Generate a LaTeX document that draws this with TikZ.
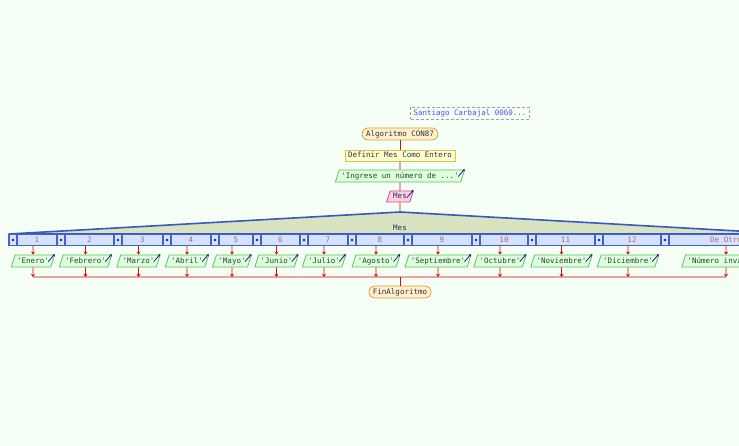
\documentclass[tikz,border=0pt]{standalone}
\usepackage{fontspec}
\setmonofont{DejaVu Sans Mono}
\usetikzlibrary{shapes.geometric,arrows.meta,calc}
\definecolor{bg}{HTML}{F5FFF5}
\definecolor{startdraw}{HTML}{D9A040}
\definecolor{startfill}{HTML}{FFF0C8}
\definecolor{defdraw}{HTML}{D8C840}
\definecolor{deffill}{HTML}{FFFFD0}
\definecolor{outdraw}{HTML}{60C060}
\definecolor{outfill}{HTML}{DDFFDD}
\definecolor{indraw}{HTML}{D04888}
\definecolor{infill}{HTML}{FFD0E4}
\definecolor{tridraw}{HTML}{3A56C0}
\definecolor{trifill}{HTML}{D8E4C0}
\definecolor{casedraw}{HTML}{4562C8}
\definecolor{casefill}{HTML}{D4E2FF}
\definecolor{casetxt}{HTML}{B86868}
\definecolor{txt}{HTML}{303050}
\definecolor{outtxt}{HTML}{304030}
\definecolor{flowred}{HTML}{D01010}
\definecolor{joinpink}{HTML}{E8A4A4}
\definecolor{iconblue}{HTML}{20208A}
\definecolor{commenttxt}{HTML}{5050F0}
\definecolor{commentdraw}{HTML}{A0A0A0}
\begin{document}
\begin{tikzpicture}[x=1pt,y=-1pt,
  font=\ttfamily\fontsize{7.5}{9}\selectfont,
  fixh/.style={text height=5.6pt, text depth=1.4pt},
  startend/.style={fixh, draw=startdraw, fill=startfill, rounded corners=6pt, minimum height=12pt, inner xsep=4pt, inner ysep=0pt, line width=0.8pt, text=txt},
  defbox/.style={fixh, draw=defdraw, fill=deffill, minimum height=11pt, inner xsep=3pt, inner ysep=0pt, line width=0.8pt, text=txt},
  outbox/.style={fixh, trapezium, trapezium stretches=true, trapezium left angle=72, trapezium right angle=108, draw=outdraw, fill=outfill, inner xsep=2pt, inner ysep=2.5pt, line width=0.8pt, text=outtxt},
  inbox/.style={fixh, trapezium, trapezium stretches=true, trapezium left angle=72, trapezium right angle=108, draw=indraw, fill=infill, inner xsep=3pt, inner ysep=2pt, line width=0.8pt, text=txt},
  commentbox/.style={fixh, draw=commentdraw, dash pattern=on 3pt off 2pt, minimum height=12pt, inner xsep=3pt, inner ysep=0pt, line width=0.8pt, text=commenttxt},
  casebox/.style={fixh, draw=casedraw, fill=casefill, line width=1.6pt, minimum height=11pt, inner sep=0pt, text=casetxt},
  tri/.style={draw=tridraw, fill=trifill, line width=1.6pt, line join=round},
  flow/.style={draw=flowred, line width=0.9pt},
  flowarrow/.style={flow, -{Stealth[length=3pt,width=4pt]}},
  joinline/.style={draw=joinpink, line width=1.8pt},
  icon/.style={draw=iconblue, line width=0.8pt, -{Stealth[length=2.5pt,width=2.8pt]}}
]
\useasboundingbox (0,0) rectangle (739,446);
\fill[bg] (0,0) rectangle (739,446);
\begin{scope}
\clip (0,0) rectangle (739,446);

% main sequence
\node[commentbox] (cm) at (470,113) {Santiago Carbajal 0060...};
\node[startend] (ini) at (400,134) {Algoritmo CON87};
\node[defbox] (def) at (400,155.5) {Definir Mes Como Entero};
\node[outbox] (ing) at (400,176) {'Ingrese un número de ...'};
\node[inbox] (lee) at (400,196.5) {Mes};
\coordinate (apex) at (400,212);
\coordinate (tl) at (9,234);
\coordinate (tr) at (791,234);

\draw[flow] (ini) -- (def);
\draw[flow] (def) -- (ing);
\draw[flow] (ing) -- (lee);
\draw[flow] (lee) -- (apex);

\draw[icon] ([xshift=-7pt,yshift=-7pt]ing.top right corner) -- ([xshift=-0.5pt,yshift=0.5pt]ing.top right corner);
\draw[icon] ([xshift=-7pt,yshift=-7pt]lee.top right corner) -- ([xshift=-0.5pt,yshift=0.5pt]lee.top right corner);

% decision triangle
\filldraw[tri] (apex) -- (tl) -- (tr) -- cycle;
\node[text=txt] (mes) at (400,228) {Mes};

% cases
\foreach \l/\r/\lab/\out [count=\i] in {
  9/57/1/'Enero',
  57/114/2/'Febrero',
  114/163/3/'Marzo',
  163/211/4/'Abril',
  211/253/5/'Mayo',
  253/300/6/'Junio',
  300/348/7/'Julio',
  348/404/8/'Agosto',
  404/472/9/'Septiembre',
  472/528/10/'Octubre',
  528/595/11/'Noviembre',
  595/661/12/'Diciembre',
  661/791/{}/'Número inválido'}{
  \pgfmathsetmacro\cx{(\l+\r)/2}
  \pgfmathsetmacro\bx{(\l+8+\r)/2}
  \pgfmathsetmacro\bw{\r-\l-8}
  \node[casebox, minimum width=8pt] (s\i) at (\l+4,240) {};
  \fill[iconblue] (s\i.center) circle (1.3pt);
  \node[casebox, minimum width=\bw pt] (c\i) at (\bx,240) {\lab};
  \coordinate (cb\i) at (\cx,246);
  \node[outbox] (o\i) at (\cx,261) {\out};
  \draw[icon] ([xshift=-7pt,yshift=-7pt]o\i.top right corner) -- ([xshift=-0.5pt,yshift=0.5pt]o\i.top right corner);
  \coordinate (j\i) at (\cx,277);
  \draw[flowarrow] (cb\i) -- (o\i.north);
}
\node[fixh, text=casetxt, anchor=west, inner sep=0pt] (otro) at (710,240) {De Otro Modo};

% join
\draw[joinline] (j1) -- (j13);
\foreach \i in {1,...,13}{
  \draw[flowarrow] (o\i.south) -- (j\i);
}
\coordinate (jm) at (400,277);
\node[startend] (fin) at (400,292) {FinAlgoritmo};
\draw[flow] (jm) -- (fin);
\end{scope}
\end{tikzpicture}
\end{document}
